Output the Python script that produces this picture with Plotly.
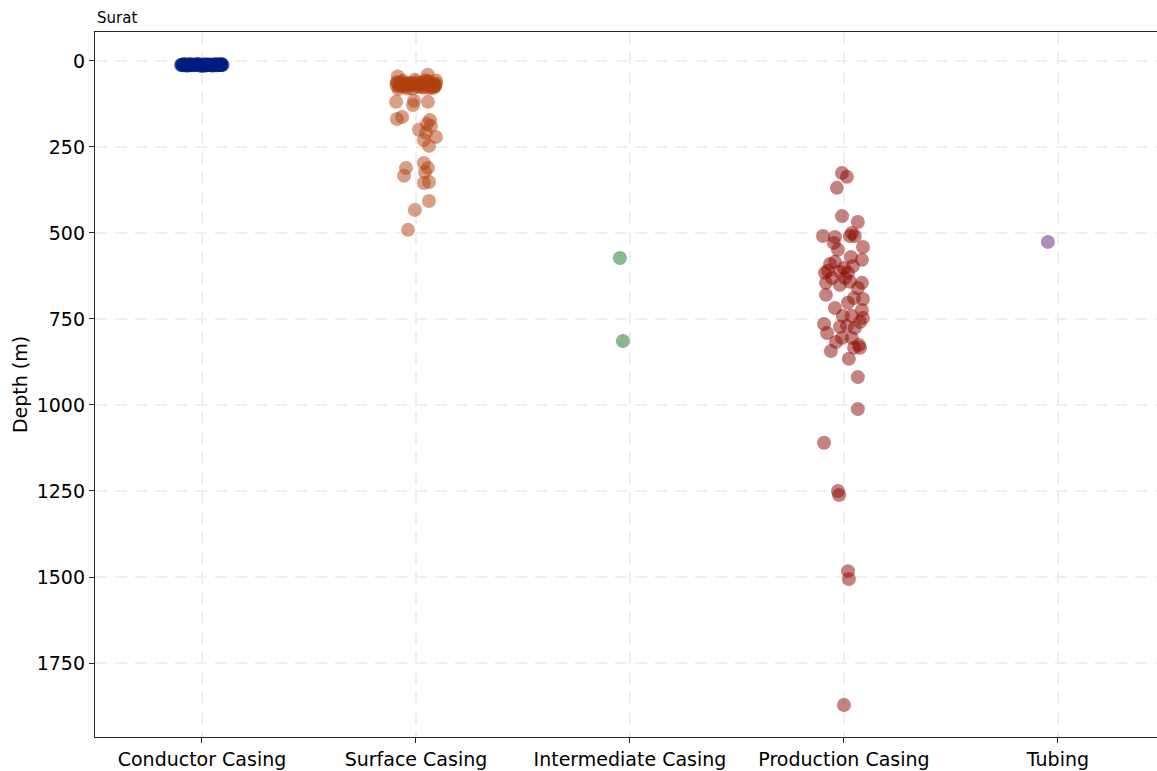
import plotly.graph_objects as go

# Casing strings, in plotting order
categories = ["Conductor Casing", "Surface Casing", "Intermediate Casing",
              "Production Casing", "Tubing"]
colors = ["#001c7f", "#b1400d", "#12711c", "#8c0800", "#591e71"]

# Set depths (m) per casing string
conductor_depth = [12, 10, 14, 11, 9, 13, 12, 10, 11, 14, 12, 9, 13, 11, 10, 12,
                   14, 11, 13, 10, 12, 9, 11, 13, 12, 10, 14, 11, 12, 13, 10, 11,
                   12, 14, 9, 12, 11, 13, 10, 12, 12, 11, 13, 10, 12, 11, 13, 12,
                   11, 12, 10, 13, 12, 11]
conductor_jitter = [-0.098, -0.085, -0.072, -0.060, -0.050, -0.040, -0.030, -0.020,
                    -0.012, -0.005, 0.003, 0.010, 0.018, 0.026, 0.034, 0.042,
                    0.050, 0.058, 0.066, 0.074, 0.082, 0.090, -0.092, -0.066,
                    -0.044, -0.024, -0.002, 0.022, 0.046, 0.070, 0.093, -0.078,
                    -0.035, 0.014, 0.062, 0.086, -0.095, -0.088, -0.081, 0.096,
                    0.088, 0.079, -0.056, -0.016, 0.038, 0.054, -0.070, 0.030,
                    -0.090, 0.092, -0.062, 0.006, 0.068, -0.028]

surface_depth = [62, 70, 58, 75, 66, 80, 55, 72, 64, 78, 60, 68, 74, 57, 82, 66,
                 70, 62, 76, 59, 67, 73, 80, 64, 69, 56, 77, 71, 63, 79, 45, 40,
                 65, 72, 68, 70, 74, 66, 78, 62, 72, 68, 76, 64, 70, 74, 66,
                 119, 169, 163, 128, 116, 119, 172, 183, 189, 200, 209, 221, 230,
                 247, 311, 334, 297, 323, 311, 352, 355, 407, 433, 491]
surface_jitter = [-0.089, -0.075, -0.060, -0.047, -0.033, -0.019, -0.005, 0.009,
                  0.023, 0.037, 0.051, 0.065, 0.079, 0.093, -0.082, -0.054,
                  -0.026, 0.002, 0.030, 0.058, 0.086, -0.068, -0.040, -0.012,
                  0.016, 0.044, 0.072, 0.090, -0.086, 0.062, -0.085, 0.055,
                  -0.030, 0.005, 0.040, -0.092, -0.080, 0.094, 0.084, -0.070,
                  -0.050, -0.020, 0.010, 0.035, 0.068, 0.088, -0.062,
                  -0.093, -0.089, -0.065, -0.014, -0.009, 0.056, 0.065, 0.051,
                  0.070, 0.014, 0.047, 0.093, 0.037, 0.061, -0.047, -0.056,
                  0.037, 0.042, 0.056, 0.061, 0.037, 0.061, -0.005, -0.037]

intermediate_depth = [573, 814]
intermediate_jitter = [-0.047, -0.033]

production_depth = [326, 337, 369, 451, 468, 509, 512, 509, 509, 500, 529, 541,
                    549, 570, 578, 590, 584, 602, 616, 610, 613, 616, 596, 631,
                    645, 660, 645, 631, 651, 642, 689, 692, 680, 703, 718, 724,
                    741, 747, 741, 759, 765, 773, 770, 776, 791, 805, 805, 817,
                    826, 834, 834, 843, 866, 919, 1012, 1110, 1250, 1262, 1483,
                    1506, 1872]
production_jitter = [-0.009, 0.014, -0.033, -0.009, 0.065, -0.098, -0.042, 0.028,
                     0.051, 0.037, -0.047, 0.089, -0.028, 0.033, 0.084, -0.065,
                     -0.042, 0.000, -0.089, -0.075, -0.019, 0.019, 0.042, 0.005,
                     0.084, 0.065, -0.084, -0.056, -0.019, 0.028, 0.047, 0.089,
                     -0.084, 0.019, -0.042, 0.084, -0.005, 0.089, 0.037, 0.075,
                     -0.093, -0.019, 0.014, 0.051, -0.079, -0.009, 0.037, -0.037,
                     0.070, 0.047, 0.075, -0.061, 0.023, 0.065, 0.065, -0.093,
                     -0.028, -0.023, 0.019, 0.023, 0.000]

tubing_depth = [526]
tubing_jitter = [-0.047]

depths = [conductor_depth, surface_depth, intermediate_depth, production_depth, tubing_depth]
jitters = [conductor_jitter, surface_jitter, intermediate_jitter, production_jitter, tubing_jitter]

fig = go.Figure()
for i, (name, d, j, c) in enumerate(zip(categories, depths, jitters, colors)):
    fig.add_trace(go.Scatter(
        x=[i + o for o in j], y=d, mode="markers", name=name,
        marker=dict(size=14, color=c, opacity=0.5, line=dict(width=0)),
        showlegend=False, hoverinfo="y+name",
    ))

font = "DejaVu Sans, Liberation Sans, sans-serif"
fig.update_layout(
    width=1157, height=771,
    margin=dict(l=95, r=0, t=32, b=34),
    plot_bgcolor="white", paper_bgcolor="white",
    font=dict(family=font, size=19, color="#000000"),
    annotations=[dict(text="Surat", x=0, y=1, xref="paper", yref="paper",
                      xanchor="left", yanchor="bottom", yshift=3,
                      showarrow=False, font=dict(size=15, family=font))],
)
grid = dict(showgrid=True, gridcolor="#eeeeee", gridwidth=2, griddash="12px,8px")
fig.update_xaxes(
    range=[-0.5, 4.463], tickvals=list(range(len(categories))), ticktext=categories,
    showline=True, linecolor="#262626", linewidth=1.3, mirror=True,
    ticks="outside", ticklen=5, tickcolor="#262626", zeroline=False, **grid,
)
fig.update_yaxes(
    range=[1965, -84], tickvals=[0, 250, 500, 750, 1000, 1250, 1500, 1750],
    title=dict(text="Depth (m)", standoff=4, font=dict(size=19)),
    showline=True, linecolor="#262626", linewidth=1.3,
    ticks="outside", ticklen=5, tickcolor="#262626", zeroline=False, **grid,
)

fig.write_html("out.html")
